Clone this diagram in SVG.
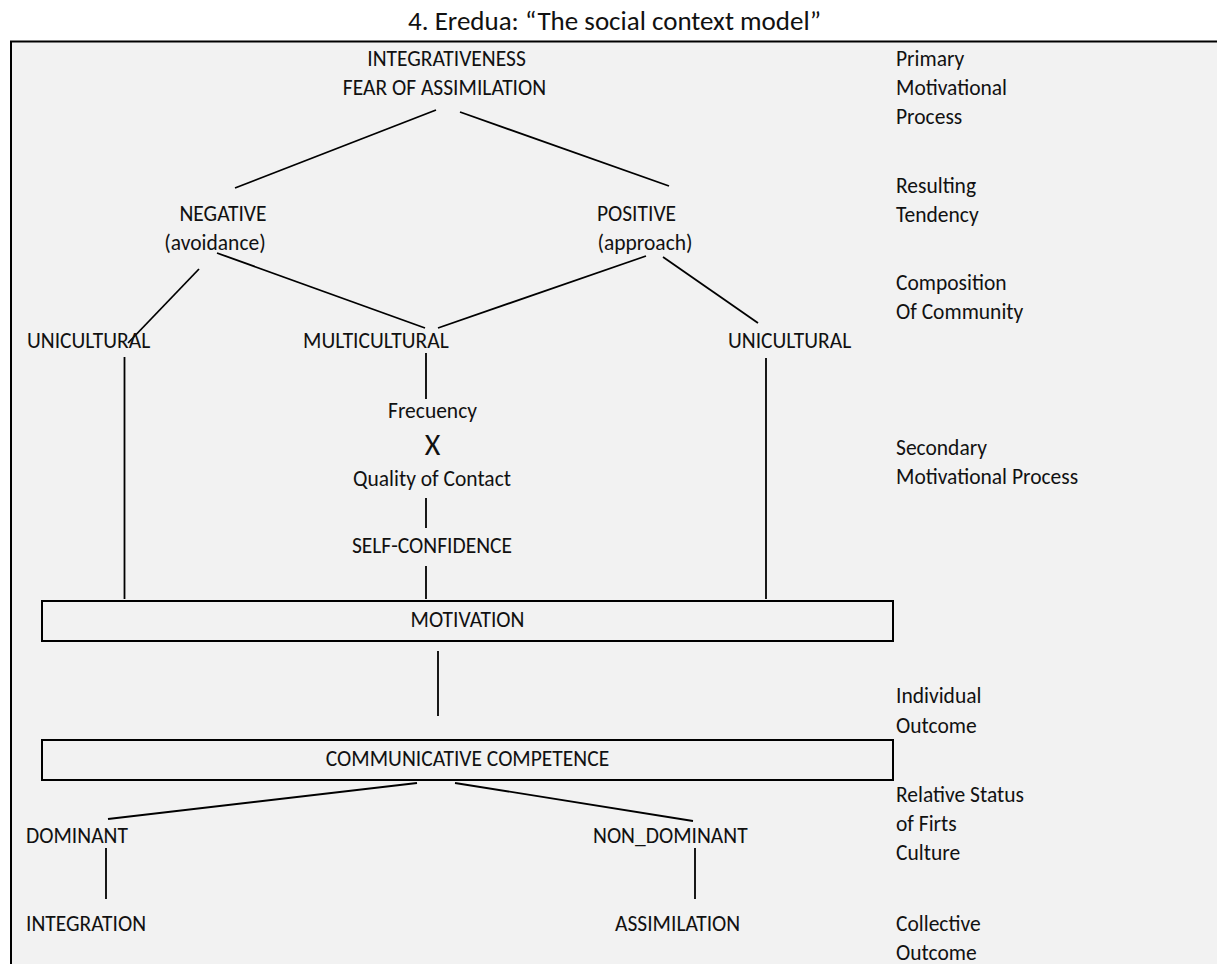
<svg xmlns="http://www.w3.org/2000/svg" width="1217" height="964" viewBox="0 0 1217 964">
<style>
text{font-family:Carlito,Lato,"Liberation Sans",sans-serif;font-size:21.5px;fill:#111}
.m{text-anchor:middle}
.ln line{stroke:#000;stroke-width:1.8}
.box{fill:none;stroke:#000;stroke-width:2}
</style>
<rect x="0" y="0" width="1217" height="964" fill="#fff"/>
<rect x="11" y="42" width="1206" height="922" fill="#f2f2f2"/>
<line x1="10" y1="41.5" x2="1217" y2="41.5" stroke="#000" stroke-width="2"/>
<line x1="11" y1="41" x2="11" y2="964" stroke="#000" stroke-width="2"/>
<text id="title" class="m" x="614.5" y="30" style="font-size:27px">4. Eredua: “The social context model”</text>
<g class="ln" id="connectors">
<line x1="436" y1="110" x2="235" y2="188"/>
<line x1="460" y1="112" x2="669" y2="186"/>
<line x1="199" y1="269" x2="128" y2="343"/>
<line x1="217" y1="253" x2="425" y2="328"/>
<line x1="646" y1="256" x2="438" y2="328"/>
<line x1="663" y1="257" x2="758" y2="323"/>
<line x1="124.5" y1="357" x2="124.5" y2="599"/>
<line x1="426" y1="353" x2="426" y2="399"/>
<line x1="426" y1="498" x2="426" y2="528"/>
<line x1="426" y1="566" x2="426" y2="599"/>
<line x1="766" y1="358" x2="766" y2="599"/>
<line x1="438" y1="651" x2="438" y2="716"/>
<line x1="417" y1="783" x2="108" y2="819"/>
<line x1="455" y1="783" x2="693" y2="821"/>
<line x1="106" y1="848" x2="106" y2="899"/>
<line x1="695" y1="848" x2="695" y2="899"/>
</g>
<g id="integrativeness"><text class="m" x="446.5" y="66">INTEGRATIVENESS</text><text class="m" x="444.5" y="95">FEAR OF ASSIMILATION</text></g>
<g id="negative"><text class="m" x="223" y="221">NEGATIVE</text><text class="m" x="215" y="250">(avoidance)</text></g>
<g id="positive"><text class="m" x="636.5" y="221">POSITIVE</text><text class="m" x="645" y="250">(approach)</text></g>
<g id="unicultural-left"><text x="27" y="348">UNICULTURAL</text></g>
<g id="multicultural"><text x="303" y="348">MULTICULTURAL</text></g>
<g id="unicultural-right"><text x="728" y="348">UNICULTURAL</text></g>
<g id="contact"><text class="m" x="432.5" y="418">Frecuency</text><text class="m" x="432.5" y="455" style="font-size:30px">X</text><text class="m" x="432" y="486">Quality of Contact</text></g>
<g id="self-confidence"><text class="m" x="432" y="553">SELF-CONFIDENCE</text></g>
<g id="motivation"><rect class="box" x="42" y="601" width="851" height="40"/><text class="m" x="467.5" y="627">MOTIVATION</text></g>
<g id="competence"><rect class="box" x="42" y="740" width="851" height="40"/><text class="m" x="467.5" y="766">COMMUNICATIVE COMPETENCE</text></g>
<g id="dominant"><text x="26" y="843">DOMINANT</text></g>
<g id="non-dominant"><text x="593" y="843">NON_DOMINANT</text></g>
<g id="integration"><text x="26" y="931">INTEGRATION</text></g>
<g id="assimilation"><text x="615" y="931">ASSIMILATION</text></g>
<g id="levels">
<text x="896" y="66">Primary</text><text x="896" y="95">Motivational</text><text x="896" y="124">Process</text>
<text x="896" y="193">Resulting</text><text x="896" y="222">Tendency</text>
<text x="896" y="290">Composition</text><text x="896" y="319">Of Community</text>
<text x="896" y="455">Secondary</text><text x="896" y="484">Motivational Process</text>
<text x="896" y="703">Individual</text><text x="896" y="733">Outcome</text>
<text x="896" y="802">Relative Status</text><text x="896" y="831">of Firts</text><text x="896" y="860">Culture</text>
<text x="896" y="931">Collective</text><text x="896" y="960">Outcome</text>
</g>
</svg>
